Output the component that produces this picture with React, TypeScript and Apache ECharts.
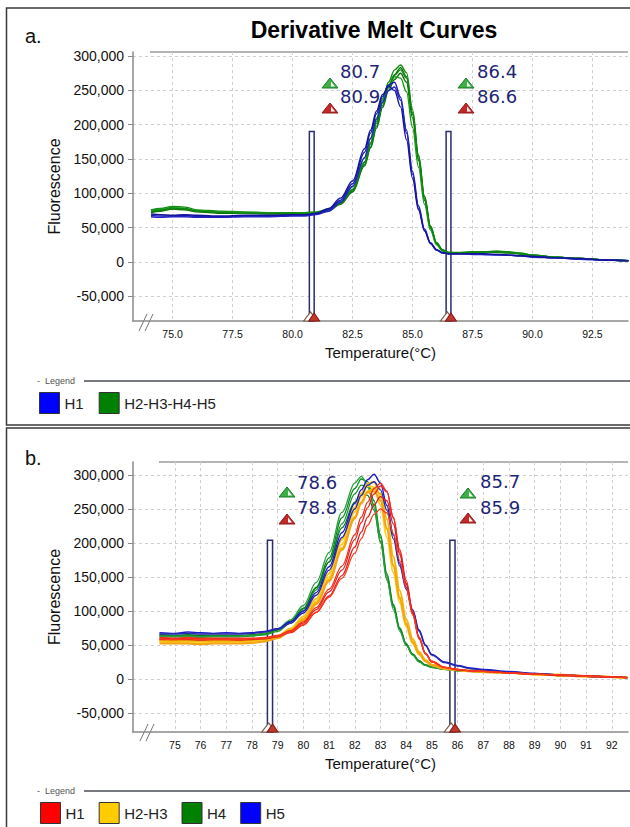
import React, { useEffect, useRef } from 'react';
import * as echarts from 'echarts';

// ---------- Panel a data (values in thousands of fluorescence units) ----------
const TEMPS_A = [74.1, 74.5, 75, 75.5, 76, 77, 78, 79, 80, 80.5, 81, 81.5, 82, 82.5, 83, 83.25, 83.5, 83.75, 84, 84.25, 84.5, 84.75, 85, 85.25, 85.5, 85.75, 86, 86.25, 86.5, 87, 87.5, 88, 88.5, 89, 89.5, 90, 91, 92, 93, 94];

const A_H1_REP1 = [68, 67, 67, 68, 66, 66, 67, 67, 68, 68, 70, 76, 90, 114, 160, 188, 216, 241, 258, 262, 240, 192, 132, 82, 48, 28, 18, 13, 12, 12, 12, 11, 11, 10, 9, 8, 6, 4, 3, 2];
const A_H1_REP2 = [66, 65, 66, 66, 65, 65, 66, 66, 67, 67, 69, 74, 87, 110, 152, 180, 208, 233, 250, 255, 236, 188, 128, 78, 46, 27, 17, 13, 12, 12, 11, 11, 10, 10, 9, 7, 6, 4, 3, 2];
const A_H1_REP3 = [70, 69, 68, 69, 68, 67, 68, 68, 69, 69, 71, 78, 93, 118, 165, 192, 220, 244, 256, 250, 226, 178, 122, 76, 45, 27, 18, 14, 12, 12, 12, 12, 11, 10, 9, 8, 6, 5, 3, 2];

const A_H25_REP1 = [74, 76, 79, 78, 74, 72, 72, 71, 71, 71, 72, 76, 86, 105, 145, 172, 202, 232, 256, 273, 283, 270, 215, 150, 92, 50, 27, 17, 14, 13, 14, 14, 15, 14, 12, 10, 7, 5, 3, 2];
const A_H25_REP2 = [76, 78, 81, 80, 76, 74, 73, 72, 72, 72, 73, 77, 87, 106, 146, 174, 205, 236, 262, 280, 287, 276, 222, 156, 96, 52, 28, 18, 14, 14, 15, 15, 16, 15, 13, 10, 7, 5, 3, 2];
const A_H25_REP3 = [72, 74, 77, 76, 73, 71, 71, 70, 70, 70, 71, 75, 84, 102, 140, 166, 195, 225, 250, 266, 275, 262, 210, 148, 90, 49, 27, 17, 13, 13, 13, 14, 14, 13, 12, 9, 7, 5, 3, 2];
const A_H25_REP4 = [75, 77, 80, 77, 75, 73, 72, 72, 71, 71, 72, 77, 88, 110, 152, 180, 210, 238, 258, 270, 268, 248, 196, 138, 84, 46, 25, 16, 13, 13, 14, 14, 15, 14, 12, 10, 7, 5, 3, 2];
const A_H25_REP5 = [73, 75, 78, 77, 74, 72, 71, 71, 71, 70, 71, 75, 85, 103, 142, 168, 198, 228, 254, 272, 280, 268, 218, 154, 95, 52, 28, 17, 14, 13, 14, 15, 15, 14, 12, 10, 7, 5, 3, 2];

// ---------- Panel b data ----------
const TEMPS_B = [74.4, 75, 75.5, 76, 76.5, 77, 77.5, 78, 78.5, 79, 79.5, 80, 80.5, 81, 81.5, 82, 82.25, 82.5, 82.75, 83, 83.25, 83.5, 83.75, 84, 84.25, 84.5, 84.75, 85, 85.5, 86, 86.5, 87, 88, 89, 90, 91, 92, 92.6];

const B_H4_REP1 = [64, 63, 64, 63, 63, 63, 63, 64, 66, 72, 84, 103, 135, 178, 237, 280, 294, 290, 262, 212, 155, 110, 75, 52, 37, 27, 21, 18, 15, 13, 12, 11, 9, 7, 6, 4, 3, 2];
const B_H4_REP2 = [62, 62, 62, 61, 62, 62, 62, 63, 65, 70, 82, 100, 131, 172, 228, 272, 285, 282, 256, 208, 152, 108, 74, 51, 36, 26, 20, 17, 14, 13, 12, 11, 9, 7, 5, 4, 3, 2];
const B_H4_REP3 = [65, 64, 65, 64, 64, 64, 64, 65, 67, 73, 85, 104, 134, 172, 222, 260, 272, 270, 248, 202, 148, 106, 73, 50, 36, 26, 20, 17, 14, 12, 11, 10, 9, 7, 5, 4, 3, 2];
const B_H4_REP4 = [63, 63, 63, 62, 63, 63, 63, 64, 67, 74, 87, 108, 142, 186, 245, 288, 298, 286, 252, 200, 145, 102, 70, 49, 35, 25, 20, 17, 14, 12, 11, 10, 9, 7, 5, 4, 3, 2];

const B_H23_REP1 = [56, 55, 55, 54, 55, 55, 55, 56, 58, 63, 74, 92, 118, 155, 205, 252, 273, 287, 290, 268, 222, 168, 120, 82, 55, 38, 27, 21, 16, 13, 12, 11, 9, 7, 6, 4, 3, 2];
const B_H23_REP2 = [54, 53, 54, 53, 53, 53, 54, 54, 56, 61, 72, 89, 114, 150, 198, 246, 268, 284, 282, 256, 208, 156, 112, 77, 52, 36, 26, 20, 15, 13, 12, 11, 9, 7, 5, 4, 3, 2];
const B_H23_REP3 = [57, 56, 57, 56, 56, 56, 56, 57, 59, 63, 72, 88, 112, 146, 192, 238, 260, 276, 280, 272, 235, 180, 130, 88, 59, 40, 28, 21, 16, 13, 12, 11, 9, 7, 6, 4, 3, 2];
const B_H23_REP4 = [52, 52, 52, 51, 52, 52, 52, 53, 55, 60, 70, 86, 110, 144, 190, 236, 258, 274, 276, 262, 220, 166, 118, 80, 54, 37, 26, 20, 15, 13, 11, 10, 9, 7, 5, 4, 3, 2];

const B_H5_REP1 = [68, 67, 69, 68, 67, 68, 67, 68, 70, 74, 84, 100, 127, 165, 215, 258, 278, 293, 301, 288, 255, 212, 170, 135, 102, 72, 50, 36, 25, 20, 16, 14, 11, 8, 6, 4, 3, 2];
const B_H5_REP2 = [66, 66, 67, 66, 66, 66, 66, 67, 69, 73, 82, 97, 123, 160, 208, 250, 270, 285, 290, 278, 248, 206, 166, 132, 100, 70, 49, 35, 24, 19, 15, 13, 10, 8, 6, 4, 3, 2];

const B_H1_REP1 = [60, 59, 60, 59, 59, 59, 59, 59, 60, 63, 70, 82, 102, 128, 160, 205, 230, 252, 272, 284, 275, 238, 190, 145, 100, 62, 38, 26, 17, 14, 12, 11, 9, 7, 6, 5, 3, 2];
const B_H1_REP2 = [61, 60, 61, 60, 60, 60, 60, 60, 61, 64, 71, 84, 105, 132, 166, 212, 238, 260, 280, 288, 276, 236, 186, 140, 96, 60, 37, 25, 17, 14, 12, 11, 9, 7, 6, 4, 3, 2];
const B_H1_REP3 = [58, 58, 58, 57, 58, 58, 57, 58, 59, 62, 68, 79, 98, 122, 152, 194, 216, 238, 256, 268, 262, 228, 183, 140, 97, 60, 37, 25, 17, 13, 12, 11, 9, 7, 5, 4, 3, 2];
const B_H1_REP4 = [59, 58, 59, 58, 58, 58, 58, 59, 60, 63, 69, 80, 98, 120, 148, 185, 206, 226, 242, 250, 244, 214, 174, 134, 94, 59, 37, 25, 17, 14, 12, 11, 9, 7, 6, 4, 3, 2];

// ---------- Ticks and markers ----------
const Y_TICKS = [-50000, 0, 50000, 100000, 150000, 200000, 250000, 300000];
const X_TICKS_A = [75, 77.5, 80, 82.5, 85, 87.5, 90, 92.5];
const X_TICKS_B = [75, 76, 77, 78, 79, 80, 81, 82, 83, 84, 85, 86, 87, 88, 89, 90, 91, 92];

const MELT_A_START = [80.7, 86.4];
const MELT_A_END = [80.9, 86.6];
const MELT_B_START = [78.6, 85.7];
const MELT_B_END = [78.8, 85.9];
const MARKER_TOP_A = 190000;
const MARKER_TOP_B = 204000;

const Y_RANGE_A = [-86000, 306000];
const Y_RANGE_B = [-78000, 319000];
const X_RANGE_A = [73.35, 93.98];
const X_RANGE_B = [73.37, 92.63];

const GROUPS_A = [
  { name: 'H2-H3-H4-H5', reps: [A_H25_REP1, A_H25_REP2, A_H25_REP3, A_H25_REP4, A_H25_REP5], colors: ['#0b7d0b', '#128c12', '#0a6e0a', '#1a9a1a', '#0f850f'], width: 1.4 },
  { name: 'H1', reps: [A_H1_REP1, A_H1_REP2, A_H1_REP3], colors: ['#1b1bb5', '#2323c8', '#14149a'], width: 1.4 },
];
const GROUPS_B = [
  { name: 'H4', reps: [B_H4_REP1, B_H4_REP2, B_H4_REP3, B_H4_REP4], colors: ['#0a8a1e', '#1a9a2a', '#0b7a16', '#2aa040'], width: 1.3 },
  { name: 'H2-H3', reps: [B_H23_REP1, B_H23_REP2, B_H23_REP3, B_H23_REP4], colors: ['#f7c21b', '#ffcf26', '#f2b705', '#f5a316'], width: 2 },
  { name: 'H5', reps: [B_H5_REP1, B_H5_REP2], colors: ['#1a1acc', '#2828b0'], width: 1.4 },
  { name: 'H1', reps: [B_H1_REP1, B_H1_REP2, B_H1_REP3, B_H1_REP4], colors: ['#e8241c', '#f0301a', '#d81e1e', '#ff3b1f'], width: 1.3 },
];

const LEGEND_A = [
  { name: 'H1', color: '#0000ff' },
  { name: 'H2-H3-H4-H5', color: '#008000' },
];
const LEGEND_B = [
  { name: 'H1', color: '#ff0000' },
  { name: 'H2-H3', color: '#ffcc00' },
  { name: 'H4', color: '#008000' },
  { name: 'H5', color: '#0000ff' },
];

const FONT = 'Liberation Sans, Arial, sans-serif';

function buildSeries(groups: any[], temps: number[], axis: number) {
  const out: any[] = [];
  groups.forEach((g) => {
    g.reps.forEach((vals: number[], i: number) => {
      out.push({
        type: 'line',
        name: g.name,
        xAxisIndex: axis,
        yAxisIndex: axis,
        data: temps.map((t, k) => [t, vals[k] * 1000]),
        showSymbol: false,
        symbol: 'none',
        smooth: 0.35,
        smoothMonotone: 'x',
        lineStyle: { color: g.colors[i], width: g.width },
        itemStyle: { color: g.colors[i] },
        silent: true,
        z: 2,
      });
    });
  });
  return out;
}

function markerSeries(axis: number, starts: number[], ends: number[], top: number, ymin: number) {
  const areas = starts.map((s, i) => [{ coord: [s, ymin] }, { coord: [ends[i], top] }]);
  const pts: any[] = [];
  starts.forEach((s, i) => {
    pts.push({ coord: [s + 0.05, ymin], symbol: 'triangle', symbolSize: [14, 9], symbolOffset: [0, -4.5], itemStyle: { color: '#ffffff', borderColor: '#7a5a48', borderWidth: 1 } });
    pts.push({ coord: [ends[i], ymin], symbol: 'triangle', symbolSize: [11, 8], symbolOffset: [0, -4], itemStyle: { color: '#c0392b', borderColor: '#8b1a1a', borderWidth: 1 } });
  });
  return {
    type: 'line',
    xAxisIndex: axis,
    yAxisIndex: axis,
    data: [],
    z: 1,
    silent: true,
    markArea: {
      silent: true,
      label: { show: false },
      itemStyle: { color: '#ffffff', borderColor: '#2b2d6e', borderWidth: 1.5 },
      data: areas,
    },
    markPoint: {
      silent: true,
      label: { show: false },
      data: pts,
    },
  };
}

function tri(cx: number, cy: number, fill: string, stroke: string) {
  return [
    { type: 'polygon', shape: { points: [[cx - 8, cy + 5], [cx, cy - 5], [cx + 8, cy + 5]] }, style: { fill, stroke, lineWidth: 1 }, z: 20 },
    { type: 'polygon', shape: { points: [[cx + 1, cy + 3.5], [cx + 1, cy - 1.5], [cx + 5, cy + 3.5]] }, style: { fill: '#ffffff', stroke: null }, z: 21 },
  ];
}

function meltLabel(x: number, y: number, txt: string) {
  return {
    type: 'text', z: 20,
    style: { text: txt, x, y, fill: '#1e2576', font: '18px "DejaVu Sans", Verdana, sans-serif', textAlign: 'left', textVerticalAlign: 'middle', align: 'left', verticalAlign: 'middle' },
  };
}

function xAxisCfg(grid: number, range: number[], ticks: number[], fmt: (v: number) => string, gap: number) {
  return {
    type: 'value', gridIndex: grid, min: range[0], max: range[1],
    axisLine: { show: true, onZero: false, lineStyle: { color: '#8a8a8a', width: 1.5 } },
    axisTick: { show: false, customValues: ticks },
    axisLabel: { customValues: ticks, formatter: fmt, fontSize: 10.5, color: '#111', margin: 7, fontFamily: FONT },
    splitLine: { show: true, lineStyle: { color: '#cfcfcf', type: [3, 3], width: 1 } },
    name: 'Temperature(°C)', nameLocation: 'middle', nameGap: gap,
    nameTextStyle: { fontSize: 15, color: '#111', fontFamily: FONT },
  };
}

function yAxisCfg(grid: number, range: number[]) {
  return {
    type: 'value', gridIndex: grid, min: range[0], max: range[1],
    axisLine: { show: true, onZero: false, lineStyle: { color: '#8a8a8a', width: 1.5 } },
    axisTick: { show: true, length: 5, customValues: Y_TICKS, lineStyle: { color: '#8a8a8a' } },
    axisLabel: { customValues: Y_TICKS, formatter: (v: number) => v.toLocaleString('en-US'), fontSize: 14, color: '#111', margin: 9, fontFamily: FONT },
    splitLine: { show: true, lineStyle: { color: '#cfcfcf', type: [3, 3], width: 1 } },
    name: 'Fluorescence', nameLocation: 'middle', nameGap: 69,
    nameTextStyle: { fontSize: 16, color: '#111', fontFamily: FONT },
  };
}

function legendCfg(items: any[], left: number, top: number, gap: number) {
  return {
    data: items.map((it) => ({ name: it.name, itemStyle: { color: it.color } })),
    left, top, orient: 'horizontal', icon: 'rect', itemWidth: 20, itemHeight: 21, itemGap: gap, padding: 0,
    selectedMode: false,
    itemStyle: { borderColor: '#333', borderWidth: 1 },
    textStyle: { fontSize: 15, color: '#222', fontFamily: FONT },
  };
}

export default function App() {
  const ref = useRef<HTMLDivElement>(null);
  useEffect(() => {
    const chart = echarts.init(ref.current!, null, { renderer: 'svg' });
    const graphic: any[] = [
      { type: 'rect', shape: { x: 6.5, y: 8, width: 640, height: 417 }, style: { fill: 'none', stroke: '#3a3a3a', lineWidth: 1.5 }, z: 0 },
      { type: 'rect', shape: { x: 6.5, y: 428, width: 640, height: 420 }, style: { fill: 'none', stroke: '#3a3a3a', lineWidth: 1.5 }, z: 0 },
      { type: 'text', style: { text: 'a.', x: 25, y: 36, fill: '#111', font: '20px ' + FONT, textVerticalAlign: 'middle', verticalAlign: 'middle' } },
      { type: 'text', style: { text: 'b.', x: 25, y: 458, fill: '#111', font: '20px ' + FONT, textVerticalAlign: 'middle', verticalAlign: 'middle' } },
      { type: 'text', style: { text: 'Derivative Melt Curves', x: 374, y: 30, fill: '#000', font: 'bold 23px ' + FONT, textAlign: 'center', align: 'center', textVerticalAlign: 'middle', verticalAlign: 'middle' } },
      // plot top borders
      { type: 'line', shape: { x1: 150, y1: 52, x2: 628, y2: 52 }, style: { stroke: '#b5b5b5', lineWidth: 2 } },
      { type: 'line', shape: { x1: 159, y1: 462, x2: 628, y2: 462 }, style: { stroke: '#b5b5b5', lineWidth: 2 } },
      // axis break marks
      { type: 'line', shape: { x1: 139, y1: 331, x2: 147, y2: 314 }, style: { stroke: '#777', lineWidth: 1 } },
      { type: 'line', shape: { x1: 145, y1: 331, x2: 153, y2: 314 }, style: { stroke: '#777', lineWidth: 1 } },
      { type: 'line', shape: { x1: 140, y1: 741, x2: 148, y2: 724 }, style: { stroke: '#777', lineWidth: 1 } },
      { type: 'line', shape: { x1: 146, y1: 741, x2: 154, y2: 724 }, style: { stroke: '#777', lineWidth: 1 } },
      // legend headers
      { type: 'text', style: { text: '-  Legend', x: 37, y: 381, fill: '#555', font: '9px ' + FONT, textVerticalAlign: 'middle', verticalAlign: 'middle' } },
      { type: 'line', shape: { x1: 84, y1: 381, x2: 630, y2: 381 }, style: { stroke: '#4a4f55', lineWidth: 1.5 } },
      { type: 'text', style: { text: '-  Legend', x: 37, y: 791, fill: '#555', font: '9px ' + FONT, textVerticalAlign: 'middle', verticalAlign: 'middle' } },
      { type: 'line', shape: { x1: 84, y1: 791, x2: 630, y2: 791 }, style: { stroke: '#4a4f55', lineWidth: 1.5 } },
      // melt labels panel a
      ...tri(330, 83, '#3cb043', '#1b7a2b'), ...tri(330, 108, '#c62828', '#8b1a1a'),
      meltLabel(340, 71, MELT_A_START[0].toFixed(1)), meltLabel(340, 96, MELT_A_END[0].toFixed(1)),
      ...tri(466, 83, '#3cb043', '#1b7a2b'), ...tri(466, 108, '#c62828', '#8b1a1a'),
      meltLabel(477, 71, MELT_A_START[1].toFixed(1)), meltLabel(477, 96, MELT_A_END[1].toFixed(1)),
      // melt labels panel b
      ...tri(287, 492, '#3cb043', '#1b7a2b'), ...tri(287, 519, '#c62828', '#8b1a1a'),
      meltLabel(297, 482, MELT_B_START[0].toFixed(1)), meltLabel(297, 507, MELT_B_END[0].toFixed(1)),
      ...tri(468, 493, '#3cb043', '#1b7a2b'), ...tri(468, 518, '#c62828', '#8b1a1a'),
      meltLabel(480, 481, MELT_B_START[1].toFixed(1)), meltLabel(480, 507, MELT_B_END[1].toFixed(1)),
    ];

    const option: any = {
      animation: false,
      backgroundColor: '#ffffff',
      grid: [
        { left: 133, top: 52, width: 495, height: 269 },
        { left: 133, top: 462, width: 495, height: 270 },
      ],
      xAxis: [
        xAxisCfg(0, X_RANGE_A, X_TICKS_A, (v: number) => v.toFixed(1), 24),
        xAxisCfg(1, X_RANGE_B, X_TICKS_B, (v: number) => String(v), 23.5),
      ],
      yAxis: [yAxisCfg(0, Y_RANGE_A), yAxisCfg(1, Y_RANGE_B)],
      legend: [legendCfg(LEGEND_A, 39, 392, 15), legendCfg(LEGEND_B, 40, 802, 14)],
      graphic,
      series: [
        markerSeries(0, MELT_A_START, MELT_A_END, MARKER_TOP_A, Y_RANGE_A[0]),
        markerSeries(1, MELT_B_START, MELT_B_END, MARKER_TOP_B, Y_RANGE_B[0]),
        ...buildSeries(GROUPS_A, TEMPS_A, 0),
        ...buildSeries(GROUPS_B, TEMPS_B, 1),
      ],
    };
    chart.setOption(option);
    return () => chart.dispose();
  }, []);
  return <div ref={ref} style={{ position: 'absolute', left: 0, top: 0, width: 630, height: 827, background: '#fff' }} />;
}
